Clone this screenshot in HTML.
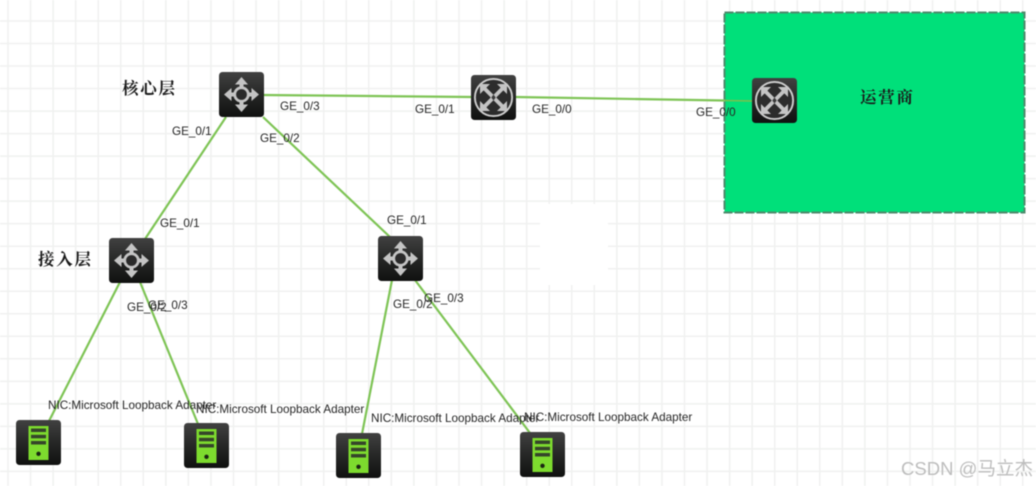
<!DOCTYPE html>
<html>
<head>
<meta charset="utf-8">
<style>
html,body{margin:0;padding:0;background:#fff;width:1036px;height:486px;overflow:hidden}
svg{display:block;filter:blur(.4px)}
.l{font:11.7px "Liberation Sans",sans-serif;fill:#262626}
.c{font:bold 16.5px "Liberation Serif","Noto Serif CJK SC",serif;fill:#1a1a1a}
.w{font:18.5px "Liberation Sans","Noto Sans CJK SC",sans-serif;fill:#bdbdbd}
</style>
</head>
<body>
<svg width="1036" height="486" viewBox="0 0 1036 486" xmlns="http://www.w3.org/2000/svg">
<defs>
<linearGradient id="bg" x1="0" y1="0" x2="0" y2="1">
<stop offset="0" stop-color="#414141"/>
<stop offset=".5" stop-color="#262726"/>
<stop offset="1" stop-color="#101110"/>
</linearGradient>
<g id="sw">
<rect width="45" height="45" rx="3.5" fill="url(#bg)"/>
<g fill="#c4c4c4">
<path d="M22.5 5l6.500 7.500h-4.500v6h-4v-6h-4.500z"/>
<path d="M22.5 40l6.500-7.500h-4.500v-6h-4v6h-4.500z"/>
<path d="M5 22.500l7.500-6.500v4.500h6v4h-6v4.500z"/>
<path d="M40 22.500l-7.500-6.500v4.500h-6v4h6v4.500z"/>
</g>
<circle cx="22.500" cy="22.500" r="6.800" fill="#2a2a2a" stroke="#c4c4c4" stroke-width="2.800"/>
</g>
<g id="rt">
<rect width="45" height="45" rx="3.500" fill="url(#bg)"/>
<circle cx="22.500" cy="22.500" r="18.600" fill="#2c2c2c" stroke="#cfcfcf" stroke-width="1.900"/>
<g fill="none" stroke="#c4c4c4" stroke-width="3.800">
<path d="M12 12L19 19L26 26L33 33"/>
<path d="M33 12L26 19L19 26L12 33"/>
</g>
<g fill="#c4c4c4">
<path d="M9 9h10l-10 10z"/>
<path d="M36 9v10l-10-10z"/>
<path d="M9 36v-10l10 10z"/>
<path d="M36 36h-10l10-10z"/>
</g>
<path d="M22.500 19.500l-2.200 3 2.200 3 2.200-3z" fill="#3a3a3a"/>
</g>
<g id="pc">
<rect width="45" height="45" rx="3.500" fill="url(#bg)"/>
<rect x="12.500" y="6" width="20" height="34" fill="#7ddb2e"/>
<rect x="15" y="8.500" width="15" height="3.500" fill="#35452a"/>
<rect x="15" y="14.800" width="15" height="3.500" fill="#35452a"/>
<rect x="15" y="21" width="15" height="3.500" fill="#35452a"/>
<circle cx="22.500" cy="33.800" r="2.200" fill="#1a2612"/>
</g>
</defs>

<rect width="1036" height="486" fill="#fff"/>
<path stroke="#f0f1f0" stroke-width="1.500" fill="none" d="M8 0V486M30.550 0V486M53.100 0V486M75.650 0V486M98.200 0V486M120.750 0V486M143.300 0V486M165.850 0V486M188.400 0V486M210.950 0V486M233.500 0V486M256.050 0V486M278.600 0V486M301.150 0V486M323.700 0V486M346.250 0V486M368.800 0V486M391.350 0V486M413.900 0V486M436.450 0V486M459 0V486M481.550 0V486M504.100 0V486M526.650 0V486M549.200 0V486M571.750 0V486M594.300 0V486M616.850 0V486M639.400 0V486M661.950 0V486M684.500 0V486M707.050 0V486M729.600 0V486M752.150 0V486M774.700 0V486M797.250 0V486M819.800 0V486M842.350 0V486M864.900 0V486M887.450 0V486M910 0V486M932.550 0V486M955.100 0V486M977.650 0V486M1000.200 0V486M1022.750 0V486M0 21H1036M0 43.520H1036M0 66.040H1036M0 88.560H1036M0 111.080H1036M0 133.600H1036M0 156.120H1036M0 178.640H1036M0 201.160H1036M0 223.680H1036M0 246.200H1036M0 268.720H1036M0 291.240H1036M0 313.760H1036M0 336.280H1036M0 358.800H1036M0 381.320H1036M0 403.840H1036M0 426.360H1036M0 448.880H1036M0 471.400H1036"/>
<rect x="540" y="204" width="68" height="81" fill="#fff"/>

<rect x="724.500" y="12.500" width="300" height="200" fill="#00e07a"/>
<rect x="724.500" y="12.500" width="300" height="200" fill="none" stroke="#4d8a6c" stroke-width="2" stroke-dasharray="9 2"/>

<g stroke="#7ec455" stroke-width="2.200" fill="none">
<path d="M262 95L472 97"/>
<path d="M515 97L724 100.500"/>
<path d="M226 117L145 239"/>
<path d="M263 117L390 237"/>
<path d="M120 282L49 421"/>
<path d="M140 282L198 424"/>
<path d="M392 280L362 434"/>
<path d="M415 280L530 433"/>
</g>
<path d="M724 100.500L753 101" stroke="#7cc04c" stroke-width="1.500" fill="none"/>

<use href="#sw" x="219" y="72"/>
<use href="#rt" x="471" y="75"/>
<use href="#rt" x="752" y="78"/>
<use href="#sw" x="109" y="238"/>
<use href="#sw" x="378" y="236"/>
<use href="#pc" x="16" y="420"/>
<use href="#pc" x="184" y="423"/>
<use href="#pc" x="336" y="433"/>
<use href="#pc" x="520" y="432"/>

<text class="l" x="172" y="135">GE_0/1</text>
<text class="l" x="260" y="142">GE_0/2</text>
<text class="l" x="280" y="110">GE_0/3</text>
<text class="l" x="415" y="113">GE_0/1</text>
<text class="l" x="532" y="113">GE_0/0</text>
<text class="l" x="696" y="116">GE_0/0</text>
<text class="l" x="160" y="227">GE_0/1</text>
<text class="l" x="387" y="224">GE_0/1</text>
<text class="l" x="127" y="311">GE_0/2</text>
<text class="l" x="148" y="309">GE_0/3</text>
<text class="l" x="393" y="308">GE_0/2</text>
<text class="l" x="424" y="302">GE_0/3</text>
<text class="l" x="48" y="409">NIC:Microsoft Loopback Adapter</text>
<text class="l" x="196" y="413">NIC:Microsoft Loopback Adapter</text>
<text class="l" x="371" y="422">NIC:Microsoft Loopback Adapter</text>
<text class="l" x="524" y="421">NIC:Microsoft Loopback Adapter</text>

<text class="c" x="122" y="94" textLength="53">核心层</text>
<text class="c" x="38" y="265" textLength="53">接入层</text>
<text class="c" x="860" y="103" textLength="53">运营商</text>
<text class="w" x="901" y="475" textLength="132">CSDN @马立杰</text>
</svg>
</body>
</html>
